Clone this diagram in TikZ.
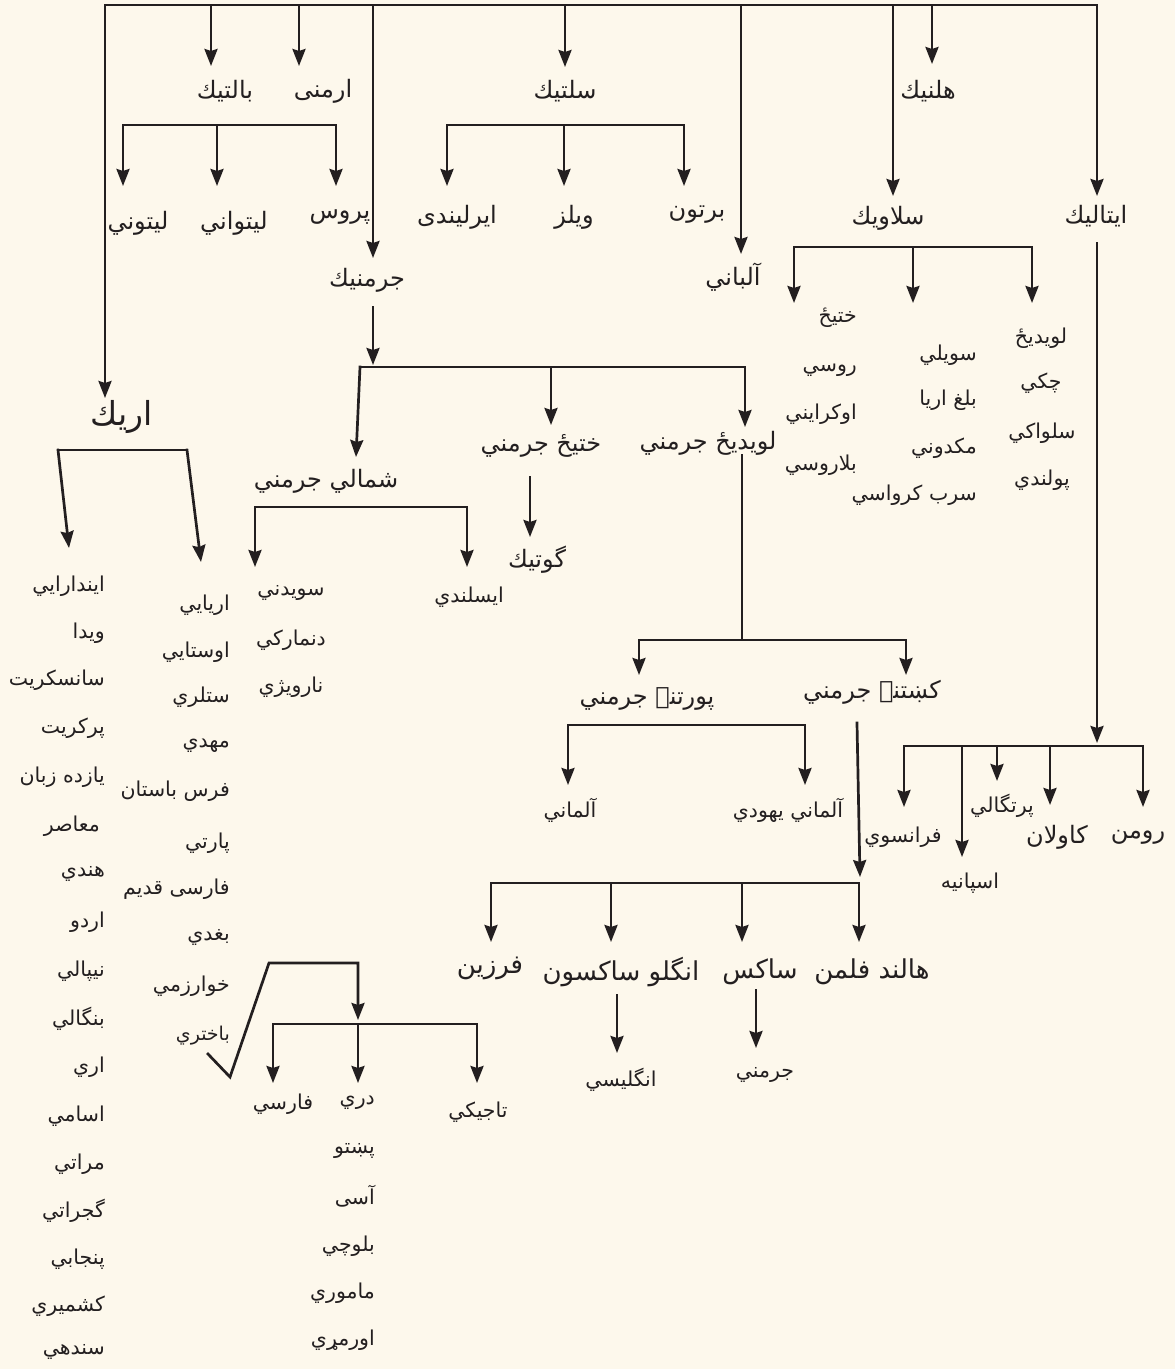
\documentclass[tikz,border=0pt]{standalone}
\usepackage{fontspec}
\newfontfamily\arabicfont[Script=Arabic]{DejaVu Sans}
\TeXXeTstate=1
\usetikzlibrary{arrows.meta}
\definecolor{bg}{HTML}{FDF8EC}
\definecolor{ink}{HTML}{231F20}
\newcommand{\RL}[1]{\beginR #1\endR}
\tikzset{
  link/.style={draw=ink, line width=2.7pt, line cap=rect},
  arr/.style={link, -{Stealth[length=17pt,width=13pt,inset=2pt]}},
  lab/.style={text=ink, font=\arabicfont\fontsize{24}{28}\selectfont, inner sep=1pt},
  big/.style={text=ink, font=\arabicfont\fontsize{26}{30}\selectfont, inner sep=1pt},
  huge/.style={text=ink, font=\arabicfont\fontsize{33}{38}\selectfont, inner sep=1pt},
  itm/.style={text=ink, font=\arabicfont\fontsize{20.5}{24}\selectfont, inner sep=1pt},
  sml/.style={text=ink, font=\arabicfont\fontsize{19}{22}\selectfont, inner sep=1pt},
}
\begin{document}
\begin{tikzpicture}[x=1pt,y=-1pt]
\fill[bg] (0,0) rectangle (1175,1369);
\useasboundingbox (0,0) rectangle (1175,1369);

% ---------- top level labels
\node[lab] (bal) at (225,91) {\RL{بالتيك}};
\node[lab] (arm) at (323,91) {\RL{ارمنی}};
\node[lab] (cel) at (565,91) {\RL{سلتيك}};
\node[lab] (hel) at (928,91) {\RL{هلنيك}};
\node[lab] (ger) at (367,280) {\RL{جرمنيك}};
\node[lab] (alb) at (733,277) {\RL{آلباني}};
\node[lab] (sla) at (888,218) {\RL{سلاويك}};
\node[lab] (ita) at (1096,216) {\RL{ايتاليك}};
\node[huge] (ari) at (122,417) {\RL{اريك}};

% ---------- top bus
\coordinate (tL) at (105,5);
\coordinate (tR) at (1097,5);
\coordinate (tBal) at (211,5);
\coordinate (tArm) at (299,5);
\coordinate (tGer) at (373,5);
\coordinate (tCel) at (565,5);
\coordinate (tAlb) at (741,5);
\coordinate (tSla) at (893,5);
\coordinate (tHel) at (932,5);
\coordinate (aAri) at (105,398);
\coordinate (aBal) at (211,66);
\coordinate (aArm) at (299,66);
\coordinate (aGer) at (373,258);
\coordinate (aCel) at (565,67);
\coordinate (aAlb) at (741,254);
\coordinate (aSla) at (893,196);
\coordinate (aHel) at (932,64);
\coordinate (aIta) at (1097,196);
\draw[arr] (tL) -- (tR) -- (aIta);
\draw[arr] (tL) -- (aAri);
\draw[arr] (tBal) -- (aBal);
\draw[arr] (tArm) -- (aArm);
\draw[arr] (tGer) -- (aGer);
\draw[arr] (tCel) -- (aCel);
\draw[arr] (tAlb) -- (aAlb);
\draw[arr] (tSla) -- (aSla);
\draw[arr] (tHel) -- (aHel);

% ---------- Baltic
\node[lab] (lat) at (138,223) {\RL{ليتوني}};
\node[lab] (lit) at (234,223) {\RL{ليتواني}};
\node[lab] (pru) at (340,217) {\RL{پروس}};
\coordinate (bL) at (123,125);
\coordinate (bM) at (217,125);
\coordinate (bR) at (336,125);
\draw[link] (bL) -- (bR);
\draw[arr] (bL) -- (123,186);
\draw[arr] (bM) -- (217,186);
\draw[arr] (bR) -- (336,186);

% ---------- Celtic
\node[lab] (iri) at (457,217) {\RL{ايرليندی}};
\node[lab] (wel) at (574,217) {\RL{ويلز}};
\node[lab] (bre) at (697,215) {\RL{برتون}};
\coordinate (cL) at (447,125);
\coordinate (cM) at (564,125);
\coordinate (cR) at (684,125);
\draw[link] (cL) -- (cR);
\draw[arr] (cL) -- (447,186);
\draw[arr] (cM) -- (564,186);
\draw[arr] (cR) -- (684,186);

% ---------- Slavic
\coordinate (sL) at (794,247);
\coordinate (sM) at (913,247);
\coordinate (sR) at (1032,247);
\draw[link] (sL) -- (sR);
\draw[arr] (sL) -- (794,303);
\draw[arr] (sM) -- (913,303);
\draw[arr] (sR) -- (1032,303);
\node[itm, anchor=east] (s1) at (858,318) {\RL{ختيځ}};
\node[itm, anchor=east] (s2) at (858,370) {\RL{روسي}};
\node[itm, anchor=east] (s3) at (858,414) {\RL{اوكرايني}};
\node[itm, anchor=east] (s4) at (858,465) {\RL{بلاروسي}};
\node[itm, anchor=east] (s5) at (978,355) {\RL{سويلي}};
\node[itm, anchor=east] (s6) at (978,400) {\RL{بلغ اريا}};
\node[itm, anchor=east] (s7) at (978,448) {\RL{مكدوني}};
\node[itm, anchor=east] (s8) at (978,495) {\RL{سرب كرواسي}};
\node[itm] (s9) at (1041,338) {\RL{لويديځ}};
\node[itm] (s10) at (1041,383) {\RL{چكي}};
\node[itm] (s11) at (1042,433) {\RL{سلواكي}};
\node[itm] (s12) at (1042,480) {\RL{پولندي}};

% ---------- Italic
\coordinate (iTop) at (1097,243);
\coordinate (iJ) at (1097,743);
\draw[arr] (iTop) -- (iJ);
\coordinate (iA) at (904,746);
\coordinate (iB) at (962,746);
\coordinate (iC) at (997,746);
\coordinate (iD) at (1050,746);
\coordinate (iE) at (1143,746);
\draw[link] (iA) -- (iE);
\draw[arr] (iA) -- (904,807);
\draw[arr] (iB) -- (962,857);
\draw[arr] (iC) -- (997,781);
\draw[arr] (iD) -- (1050,805);
\draw[arr] (iE) -- (1143,807);
\node[itm] (fra) at (903,837) {\RL{فرانسوي}};
\node[itm] (spa) at (970,883) {\RL{اسپانيه}};
\node[itm] (por) at (1002,806) {\RL{پرتگالي}};
\node[lab] (cat) at (1057,837) {\RL{كاولان}};
\node[lab] (rom) at (1138,837) {\RL{رومن}};

% ---------- Germanic
\coordinate (gTop) at (373,307);
\coordinate (gJ) at (373,365);
\draw[arr] (gTop) -- (gJ);
\coordinate (gL) at (360,367);
\coordinate (gM) at (551,367);
\coordinate (gR) at (745,367);
\draw[link] (gL) -- (gR);
\draw[arr] (gL) -- (356,457);
\draw[arr] (gM) -- (551,425);
\draw[arr] (gR) -- (745,427);
\node[lab] (ngm) at (326,481) {\RL{شمالي جرمني}};
\node[lab] (egm) at (541,446) {\RL{ختيځ جرمني}};
\node[lab] (wgm) at (708,443) {\RL{لويديځ جرمني}};

% Gothic
\node[lab] (got) at (537,560) {\RL{گوتيك}};
\draw[arr] (530,477) -- (530,537);

% North Germanic
\coordinate (nL) at (255,507);
\coordinate (nR) at (467,507);
\draw[link] (nL) -- (nR);
\draw[arr] (nL) -- (255,567);
\draw[arr] (nR) -- (467,567);
\node[itm] (swe) at (291,593) {\RL{سويدني}};
\node[itm] (dan) at (291,640) {\RL{دنماركي}};
\node[itm] (nor) at (291,687) {\RL{نارويژي}};
\node[itm] (ice) at (469,597) {\RL{ايسلندي}};

% West Germanic
\coordinate (wTop) at (742,455);
\coordinate (wJ) at (742,640);
\coordinate (wL) at (639,640);
\coordinate (wR) at (906,640);
\draw[link] (wTop) -- (wJ);
\draw[link] (wL) -- (wR);
\draw[arr] (wL) -- (639,675);
\draw[arr] (wR) -- (906,675);
\node[lab] (low) at (872,692) {\RL{کښتنۍ جرمني}};
\node[lab] (upp) at (647,699) {\RL{پورتنۍ جرمني}};

% Upper German
\coordinate (uL) at (568,725);
\coordinate (uR) at (805,725);
\draw[link] (uL) -- (uR);
\draw[arr] (uL) -- (568,785);
\draw[arr] (uR) -- (805,785);
\node[itm] (deu) at (570,810) {\RL{آلماني}};
\node[itm] (yid) at (788,810) {\RL{آلماني يهودي}};

% Low German
\draw[arr] (857,723) -- (860,877);
\coordinate (lA) at (491,883);
\coordinate (lB) at (611,883);
\coordinate (lC) at (742,883);
\coordinate (lD) at (859,883);
\draw[link] (lA) -- (lD);
\draw[arr] (lA) -- (491,942);
\draw[arr] (lB) -- (611,942);
\draw[arr] (lC) -- (742,942);
\draw[arr] (lD) -- (859,942);
\node[big] (fri) at (490,968) {\RL{فرزين}};
\node[big] (ang) at (621,972) {\RL{انگلو ساكسون}};
\node[big] (sax) at (760,972) {\RL{ساكس}};
\node[big] (dut) at (872,972) {\RL{هالند فلمن}};
\draw[arr] (617,995) -- (617,1053);
\draw[arr] (756,990) -- (756,1048);
\node[itm] (eng) at (621,1080) {\RL{انگليسي}};
\node[itm] (gme) at (765,1075) {\RL{جرمني}};

% ---------- Aryan
\coordinate (aL) at (58,450);
\coordinate (aR) at (187,450);
\draw[link] (aL) -- (aR);
\draw[arr] (aL) -- (69,548);
\draw[arr] (aR) -- (201,562);

% Indo-Aryan list
\foreach \t/\y in {ايندارايي/586, ويدا/633, سانسكريت/680, پركريت/728, يازده زبان/777, هندي/874, اردو/922, نيپالي/971, بنگالي/1019, اري/1067, اسامي/1116, مراتي/1164, گجراتي/1211, پنجابي/1259, كشميري/1306, سندهي/1352}
  \node[itm, anchor=east] at (106,\y) {\RL{\t}};
\node[itm, anchor=east] (mod) at (101,826) {\RL{معاصر}};

% Iranian list
\foreach \t/\y in {اريايي/605, اوستايي/652, ستلري/697, مهدي/746, فرس باستان/791, پارتي/843, فارسی قديم/889, بغدي/937, خوارزمي/986}
  \node[itm, anchor=east] at (231,\y) {\RL{\t}};
\node[sml, anchor=east] (bac) at (231,1036) {\RL{باختري}};

% Iranian modern
\draw[arr] (208,1054) -- (230,1077) -- (269,963) -- (358,963) -- (358,1020);
\coordinate (rL) at (273,1024);
\coordinate (rM) at (358,1024);
\coordinate (rR) at (477,1024);
\draw[link] (rL) -- (rR);
\draw[arr] (rL) -- (273,1083);
\draw[arr] (rM) -- (358,1083);
\draw[arr] (rR) -- (477,1083);
\node[itm] (fas) at (283,1104) {\RL{فارسي}};
\node[itm, anchor=east] (dar) at (376,1103) {\RL{دري}};
\node[itm] (taj) at (478,1112) {\RL{تاجيكي}};
\foreach \t/\y in {پښتو/1151, آسی/1196, بلوچي/1246, ماموري/1293, اورمړي/1340}
  \node[itm, anchor=east] at (376,\y) {\RL{\t}};
\end{tikzpicture}
\end{document}
